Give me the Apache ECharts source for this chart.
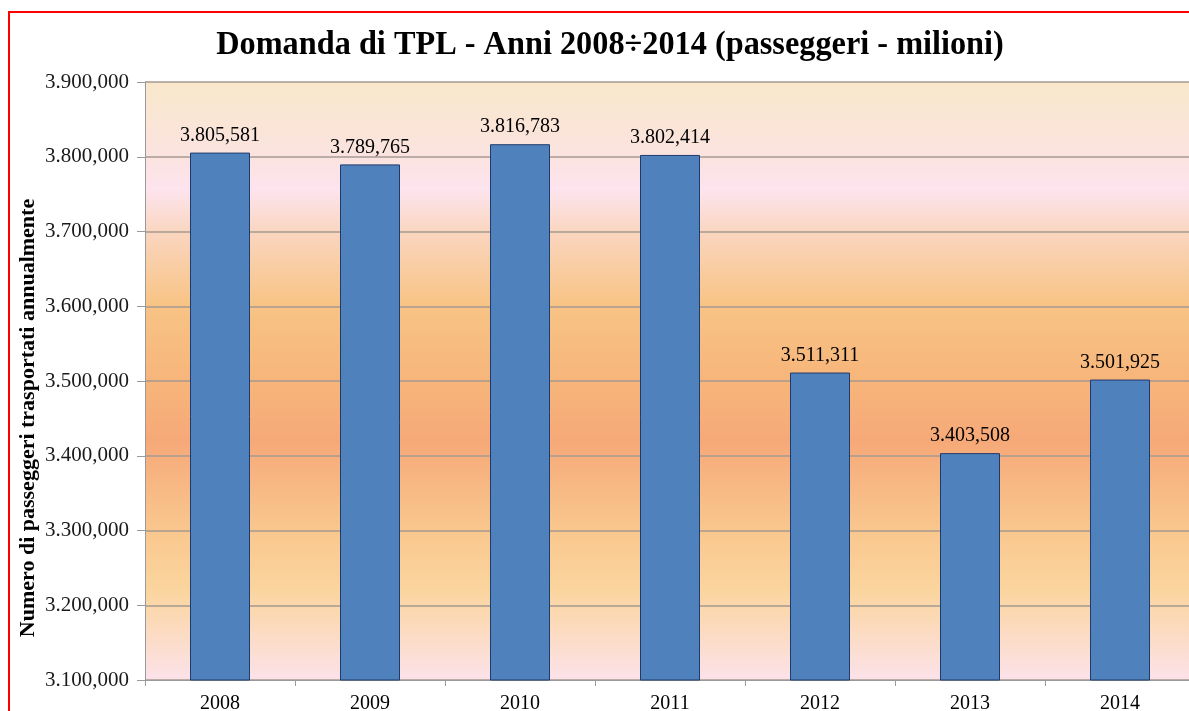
<!DOCTYPE html>
<html>
<head>
<meta charset="utf-8">
<script src="https://cdn.jsdelivr.net/npm/echarts@6/dist/echarts.min.js"></script>
<style>
  html, body { margin: 0; padding: 0; background: #ffffff; }
  #chart { width: 1189px; height: 711px; }
</style>
</head>
<body>
<div id="chart"></div>
<script>
// Passenger demand for local public transport, 2008-2014
const years = ['2008', '2009', '2010', '2011', '2012', '2013', '2014'];
const passengers = [3805581, 3789765, 3816783, 3802414, 3511311, 3403508, 3501925];
const yTicks = { min: 3100000, max: 3900000, step: 100000 };

const titleText = 'Domanda di TPL - Anni 2008÷2014 (passeggeri - milioni)';
const yTitle = 'Numero di passeggeri trasportati annualmente';

// "3805581" -> "3.805,581"
function fmt(v) {
  const s = String(Math.round(v));
  const m = s.slice(0, s.length - 6);
  const k = s.slice(s.length - 6, s.length - 3);
  const u = s.slice(s.length - 3);
  return m + '.' + k + ',' + u;
}

const serif = '"Liberation Serif", "DejaVu Serif", serif';

const chart = echarts.init(document.getElementById('chart'), null, { renderer: 'canvas' });

chart.setOption({
  animation: false,
  backgroundColor: '#ffffff',
  grid: {
    left: 145,
    top: 82,
    right: -6,
    bottom: 31,
    containLabel: false,
    outerBoundsMode: 'none',
    show: true,
    borderWidth: 0,
    backgroundColor: new echarts.graphic.LinearGradient(0, 0, 0, 1, [
      { offset: 0.00, color: '#f9e8cb' },
      { offset: 0.12, color: '#fbe3df' },
      { offset: 0.18, color: '#fde4ee' },
      { offset: 0.25, color: '#fad6c0' },
      { offset: 0.37, color: '#f8c486' },
      { offset: 0.50, color: '#f7b57a' },
      { offset: 0.60, color: '#f6a978' },
      { offset: 0.75, color: '#f9c78e' },
      { offset: 0.85, color: '#fbd59e' },
      { offset: 1.00, color: '#fce2ea' }
    ])
  },
  xAxis: {
    type: 'category',
    data: years,
    axisLine: { lineStyle: { color: '#9a9a9a', width: 1 } },
    axisTick: { show: true, alignWithLabel: false, length: 6, lineStyle: { color: '#9a9a9a' } },
    axisLabel: {
      fontFamily: serif,
      fontSize: 20,
      color: '#000000',
      margin: 14
    }
  },
  yAxis: {
    type: 'value',
    min: yTicks.min,
    max: yTicks.max,
    interval: yTicks.step,
    axisLine: { show: true, lineStyle: { color: '#9a9a9a', width: 1 } },
    axisTick: { show: true, length: 8, lineStyle: { color: '#9a9a9a' } },
    splitLine: { show: true, lineStyle: { color: '#a69a92', width: 1.5 } },
    axisLabel: {
      fontFamily: serif,
      fontSize: 21,
      color: '#1a1a1a',
      margin: 16,
      formatter: fmt
    }
  },
  graphic: [
    {
      type: 'text',
      x: 610,
      y: 45,
      scaleX: 0.95,
      style: {
        text: titleText,
        fontFamily: serif,
        fontSize: 34,
        fontWeight: 'bold',
        fill: '#000000',
        textAlign: 'center',
        textVerticalAlign: 'middle'
      }
    },
    {
      type: 'text',
      x: 28,
      y: 418,
      rotation: Math.PI / 2,
      style: {
        text: yTitle,
        fontFamily: serif,
        fontSize: 22,
        fontWeight: 'bold',
        fill: '#000000',
        textAlign: 'center',
        textVerticalAlign: 'middle'
      }
    },
    {
      type: 'rect',
      shape: { x: 9, y: 12, width: 1200, height: 720 },
      style: { fill: 'none', stroke: '#ff0000', lineWidth: 2 },
      z: 100
    }
  ],
  series: [{
    type: 'bar',
    data: passengers,
    barWidth: '40%',
    itemStyle: {
      color: '#4f81bd',
      borderColor: '#1f3b6b',
      borderWidth: 1
    },
    label: {
      show: true,
      position: 'top',
      distance: 7,
      fontFamily: serif,
      fontSize: 20,
      color: '#000000',
      formatter: p => fmt(p.value)
    }
  }]
});
</script>
</body>
</html>
